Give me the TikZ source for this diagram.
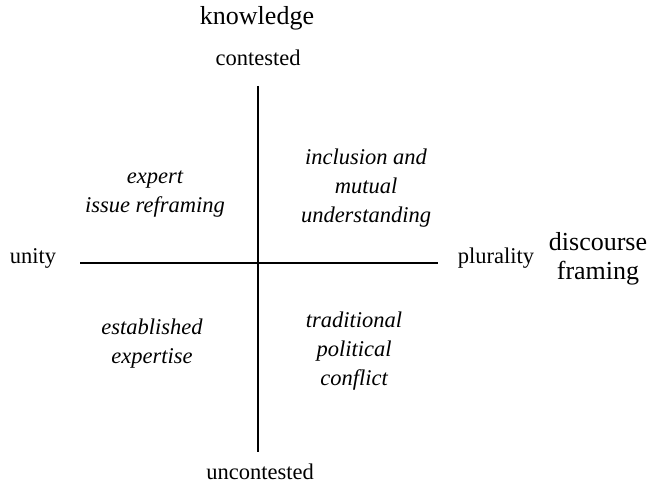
\documentclass[tikz,border=0pt]{standalone}
\usepackage{fontspec}
\setmainfont{Liberation Serif}
\begin{document}
\begin{tikzpicture}[x=1pt,y=-1pt,
  axislabel/.style={inner sep=0pt,font=\fontsize{22.5}{29}\selectfont},
  axistitle/.style={inner sep=0pt,align=center,font=\fontsize{26}{29}\selectfont},
  quadrant/.style={inner sep=0pt,align=center,font=\fontsize{22.5}{29}\selectfont\itshape},
  axis/.style={line width=1.4pt}]
\useasboundingbox (0,0) rectangle (655,486);
% axis end points
\coordinate (top) at (258,86);
\coordinate (bottom) at (258,452);
\coordinate (left) at (80,263);
\coordinate (right) at (438,263);
\draw[axis] (top) -- (bottom);
\draw[axis] (left) -- (right);
% axis labels
\node[axistitle] (know) at (257,18) {knowledge};
\node[axislabel] (cont) at (258,58) {contested};
\node[axislabel] (uncont) at (260,472) {uncontested};
\node[axislabel] (unity) at (33,258) {unity};
\node[axislabel] (plur) at (496,258) {plurality};
\node[axistitle] (disc) at (598,259) {discourse\\framing};
% quadrants
\node[quadrant] (q1) at (155,194) {expert\\issue reframing};
\node[quadrant] (q2) at (366,188) {inclusion and\\mutual\\understanding};
\node[quadrant] (q3) at (152,344) {established\\expertise};
\node[quadrant] (q4) at (354,351) {traditional\\political\\conflict};
\end{tikzpicture}
\end{document}
